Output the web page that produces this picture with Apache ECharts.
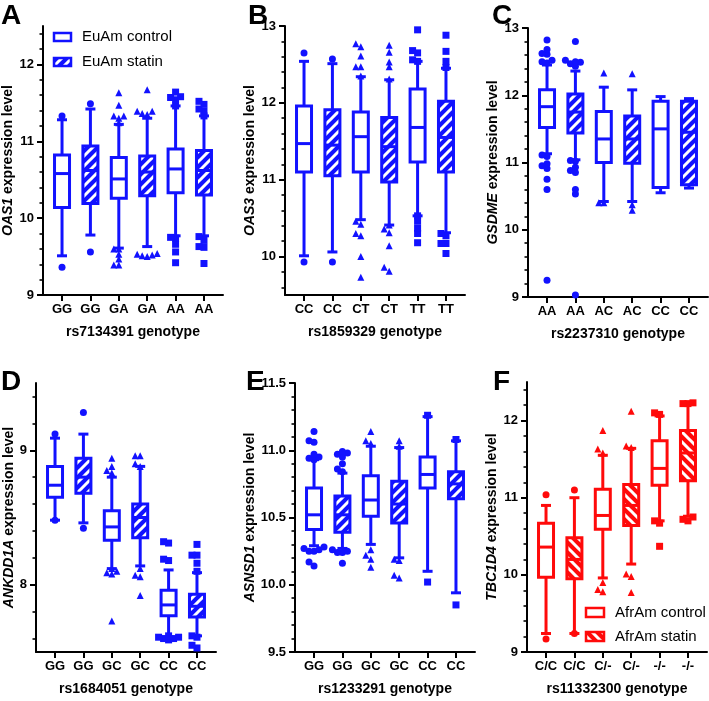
<!DOCTYPE html>
<html><head><meta charset="utf-8">
<script src="https://cdn.jsdelivr.net/npm/echarts@6/dist/echarts.min.js"></script>
<style>html,body{margin:0;padding:0;background:#fff}#c{width:709px;height:701px}</style>
</head><body><div id="c"></div>
<script>
// ---------- DATA ----------
const catsA=['GG','GG','GA','GA','AA','AA'];
const boxA=[[9.51,10.14,10.58,10.82,11.28],[9.78,10.19,10.62,10.94,11.42],[9.61,10.26,10.51,10.79,11.22],[9.63,10.29,10.60,10.81,11.30],[9.77,10.33,10.64,10.90,11.46],[9.77,10.30,10.62,10.88,11.33]];
const outA=[[11.33,9.36],[11.49,9.56],[11.63,11.47,11.33,11.33,11.30,11.24,9.60,9.60,9.53,9.47,9.39,9.39],[11.67,11.39,11.39,11.36,11.35,9.54,9.52,9.51,9.50,9.53],[11.64,11.58,11.54,11.57,11.46,9.75,9.74,9.66,9.56,9.42],[11.52,11.48,11.42,11.39,11.33,9.76,9.71,9.63,9.62,9.41]];

const catsB=['CC','CC','CT','CT','TT','TT'];
const boxB=[[10.01,11.10,11.47,11.96,12.54],[10.06,11.05,11.45,11.91,12.51],[10.48,11.10,11.56,11.88,12.34],[10.41,10.97,11.43,11.81,12.30],[10.53,11.23,11.68,12.18,12.54],[10.31,11.10,11.55,12.02,12.45]];
const outB=[[12.65,9.93],[12.57,9.93],[12.77,12.73,12.61,12.47,12.47,12.35,10.46,10.42,10.30,10.27,10.00,9.73],[12.75,12.66,12.53,12.47,12.31,10.41,10.36,10.31,10.14,9.86,9.81],[12.95,12.68,12.65,12.56,12.54,10.53,10.46,10.37,10.30,10.18],[12.88,12.67,12.54,12.46,10.30,10.27,10.17,10.17,10.04]];

const catsC=['AA','AA','AC','AC','CC','CC'];
const boxC=[[11.13,11.52,11.83,12.08,12.45],[11.04,11.44,11.75,12.02,12.36],[10.42,11.00,11.35,11.76,12.12],[10.42,10.99,11.35,11.69,12.08],[10.55,10.63,11.50,11.91,11.98],[10.62,10.67,11.45,11.91,11.95]];
const outC=[[12.82,12.68,12.62,12.61,12.52,12.50,12.48,11.11,11.09,10.98,10.95,10.91,10.75,10.60,9.25],[12.80,12.52,12.50,12.49,12.47,12.43,11.03,11.02,10.93,10.88,10.85,10.60,10.53,9.03],[12.33,10.40,10.40],[12.32,10.37,10.29],[],[]];

const catsD=['GG','GG','GC','GC','CC','CC'];
const boxD=[[8.48,8.65,8.74,8.88,9.09],[8.46,8.68,8.80,8.94,9.12],[8.12,8.33,8.43,8.55,8.80],[8.14,8.35,8.50,8.60,8.88],[7.61,7.77,7.85,7.96,8.11],[7.62,7.76,7.84,7.93,8.09]];
const outD=[[9.12,8.48],[9.28,8.42],[8.94,8.88,8.85,8.83,8.12,8.09,8.08,8.10,7.73],[8.96,8.96,8.90,8.88,8.12,8.07,8.06,7.92],[8.32,8.31,8.18,8.19,7.61,7.60,7.60,7.62,7.61,7.59],[8.30,8.22,8.22,8.16,8.10,7.62,7.61,7.55,7.53]];

const catsE=['GG','GG','GC','GC','CC','CC'];
const boxE=[[10.29,10.41,10.52,10.72,10.93],[10.27,10.39,10.52,10.66,10.83],[10.30,10.51,10.63,10.81,11.03],[10.20,10.46,10.60,10.77,11.02],[10.10,10.72,10.82,10.95,11.25],[9.94,10.64,10.75,10.84,11.07]];
const outE=[[11.14,11.07,11.06,10.97,10.95,10.94,10.93,10.28,10.27,10.26,10.25,10.25,10.17,10.14],[10.99,10.98,10.97,10.95,10.90,10.86,10.84,10.26,10.25,10.24,10.24,10.16],[11.14,11.07,11.05,10.26,10.22,10.19,10.13],[11.07,11.03,10.19,10.18,10.07,10.05],[11.26,10.02],[11.08,9.85]];

const catsF=['C/C','C/C','C/-','C/-','-/-','-/-'];
const boxF=[[9.24,9.97,10.36,10.67,10.90],[9.24,9.95,10.20,10.48,11.00],[9.96,10.59,10.77,11.11,11.55],[10.14,10.64,10.90,11.17,11.64],[10.70,11.16,11.38,11.74,12.06],[10.76,11.22,11.58,11.87,12.23]];
const outF=[[11.04,9.17],[11.10,9.24],[11.87,11.63,11.58,9.90,9.81,9.78],[12.12,11.67,11.65,10.01,9.98,9.77],[12.10,12.08,10.70,10.67,10.37],[12.23,12.22,12.22,10.75,10.72,10.70]];

const legendEu=['EuAm control','EuAm statin'];
const legendAfr=['AfrAm control','AfrAm statin'];
// ---------- STYLE ----------
const BLUE='#1212ff', RED='#ff0a0a';
const FF="Arial, 'Liberation Sans', sans-serif";
const SYMBOLS=['circle','circle','triangle','triangle','rect','rect'];

function makeHatch(color, dir){
  const s=10; const c=document.createElement('canvas'); c.width=s; c.height=s;
  const g=c.getContext('2d'); g.fillStyle=color; g.fillRect(0,0,s,s);
  g.strokeStyle='#fff'; g.lineWidth=3; g.beginPath();
  if(dir>0){ g.moveTo(-2,2); g.lineTo(2,-2); g.moveTo(0,s); g.lineTo(s,0); g.moveTo(s-2,s+2); g.lineTo(s+2,s-2); }
  else { g.moveTo(-2,s-2); g.lineTo(2,s+2); g.moveTo(0,0); g.lineTo(s,s); g.moveTo(s-2,-2); g.lineTo(s+2,2); }
  g.stroke(); return c;
}
function ticks(min,max,step){const a=[];for(let k=0;;k++){const v=Math.round((min+k*step)*100)/100; if(v>max+1e-9)break; a.push(v);}return a;}
// beeswarm-style spreading of tied outliers (layout only, values unchanged)
function swarm(vals,k,pxPerUnitY,pxPerCat){
  const sorted=vals.slice().sort((a,b)=>a-b), placed=[], res=[];
  const d=5, thr=4.5, order=[0,-1,1,-2,2];
  sorted.forEach(v=>{
    const py=v*pxPerUnitY;
    let best=null,bestC=1e9;
    for(const o of order){
      const px=o*d;
      const c=placed.filter(q=>Math.abs(q[0]-px)<thr&&Math.abs(q[1]-py)<thr).length;
      if(c<bestC){bestC=c;best=px;}
      if(c===0)break;
    }
    placed.push([best,py]);res.push([k+best/pxPerCat,v]);
  });
  return res;
}

const PANELS=[
 {cats:catsA,box:boxA,out:outA,min:9,max:12.5,major:[9,10,11,12],minor:ticks(9.2,12.4,0.2),gene:'OAS1',snp:'rs7134391',color:BLUE,dir:1,dec:0,grid:{left:43,top:26,width:180,height:269},ng:24,letter:'A',lx:10,ly:15},
 {cats:catsB,box:boxB,out:outB,min:9.5,max:13,major:[10,11,12,13],minor:ticks(9.6,12.8,0.2),gene:'OAS3',snp:'rs1859329',color:BLUE,dir:1,dec:0,grid:{left:285,top:26,width:180,height:269},ng:26,letter:'B',lx:257,ly:15},
 {cats:catsC,box:boxC,out:outC,min:9,max:13,major:[9,10,11,12,13],minor:ticks(9.2,12.8,0.2),gene:'GSDME',snp:'rs2237310',color:BLUE,dir:1,dec:0,grid:{left:528,top:28,width:180,height:269},ng:25,letter:'C',lx:501,ly:15},
 {cats:catsD,box:boxD,out:outD,min:7.5,max:9.5,major:[8,9],minor:ticks(7.6,9.4,0.2),gene:'ANKDD1A',snp:'rs1684051',color:BLUE,dir:1,dec:0,grid:{left:36,top:383,width:180,height:269},ng:18,letter:'D',lx:10,ly:381},
 {cats:catsE,box:boxE,out:outE,min:9.5,max:11.5,major:[9.5,10,10.5,11,11.5],minor:ticks(9.6,11.4,0.1),gene:'ASNSD1',snp:'rs1233291',color:BLUE,dir:1,dec:1,grid:{left:295,top:383,width:180,height:269},ng:32,letter:'E',lx:255,ly:381},
 {cats:catsF,box:boxF,out:outF,min:9,max:12.5,major:[9,10,11,12],minor:ticks(9.2,12.4,0.2),gene:'TBC1D4',snp:'rs11332300',color:RED,dir:-1,dec:0,grid:{left:527,top:382,width:180,height:270},ng:14,letter:'F',lx:502,ly:381}
];

const XMIN=-0.67, XMAX=5.67;
const option={animation:false,backgroundColor:'#fff',grid:[],xAxis:[],yAxis:[],series:[],graphic:[]};
const axLine={onZero:false,lineStyle:{color:'#000',width:2}};
PANELS.forEach((p,i)=>{
  const pattern={image:makeHatch(p.color,p.dir),repeat:'repeat'};
  p.pattern=pattern;
  option.grid.push(p.grid);
  option.xAxis.push({type:'value',gridIndex:i,min:XMIN,max:XMAX,splitLine:{show:false},axisLine:axLine,
    axisTick:{customValues:[0,1,2,3,4,5],length:6,lineStyle:{color:'#000',width:2}},
    axisLabel:{customValues:[0,1,2,3,4,5],formatter:v=>p.cats[Math.round(v)],color:'#000',fontWeight:'bold',fontSize:13,margin:8,fontFamily:FF},
    name:p.snp+' genotype',nameLocation:'middle',nameGap:30,nameTextStyle:{color:'#000',fontWeight:'bold',fontSize:14,fontFamily:FF}});
  option.yAxis.push({type:'value',gridIndex:i,position:'left',min:p.min,max:p.max,splitLine:{show:false},axisLine:axLine,
    axisTick:{customValues:p.major,length:6,lineStyle:{color:'#000',width:2}},
    axisLabel:{customValues:p.major,formatter:v=>v.toFixed(p.dec),color:'#000',fontWeight:'bold',fontSize:13,margin:9,fontFamily:FF},
    name:'{i|'+p.gene+'} expression level',nameLocation:'middle',nameRotate:90,nameGap:p.ng,
    nameTextStyle:{color:'#000',fontWeight:'bold',fontSize:14,fontFamily:FF,rich:{i:{fontStyle:'italic',fontWeight:'bold',fontSize:14,fontFamily:FF,color:'#000'}}}});
  option.yAxis.push({type:'value',gridIndex:i,position:'left',min:p.min,max:p.max,splitLine:{show:false},axisLine:{show:false,onZero:false},
    axisTick:{customValues:p.minor,length:3.5,lineStyle:{color:'#000',width:1.6}},axisLabel:{show:false}});
  const data=p.box.map((b,k)=>[k,b[0],b[1],b[2],b[3],b[4],k%2]);
  option.series.push({type:'custom',xAxisIndex:i,yAxisIndex:2*i,data:data,clip:false,z:2,
    renderItem:function(params,api){
      const x=api.value(0);
      const pMn=api.coord([x,api.value(1)]),pQ1=api.coord([x,api.value(2)]),pMd=api.coord([x,api.value(3)]),pQ3=api.coord([x,api.value(4)]),pMx=api.coord([x,api.value(5)]);
      const cx=pMn[0],bw=15,cw=5,ls={stroke:p.color,lineWidth:3};
      return {type:'group',children:[
        {type:'line',shape:{x1:cx,y1:pMn[1],x2:cx,y2:pQ1[1]},style:ls},
        {type:'line',shape:{x1:cx,y1:pQ3[1],x2:cx,y2:pMx[1]},style:ls},
        {type:'line',shape:{x1:cx-cw,y1:pMn[1],x2:cx+cw,y2:pMn[1]},style:ls},
        {type:'line',shape:{x1:cx-cw,y1:pMx[1],x2:cx+cw,y2:pMx[1]},style:ls},
        {type:'rect',shape:{x:cx-bw/2,y:pQ3[1],width:bw,height:pQ1[1]-pQ3[1]},style:{fill:api.value(6)?pattern:'#fff',stroke:p.color,lineWidth:3}},
        {type:'line',shape:{x1:cx-bw/2,y1:pMd[1],x2:cx+bw/2,y2:pMd[1]},style:ls}
      ]};
    }});
  const pxY=p.grid.height/(p.max-p.min), pxC=p.grid.width/(XMAX-XMIN);
  ['circle','triangle','rect'].forEach(sym=>{
    let pts=[];
    p.out.forEach((arr,k)=>{ if(SYMBOLS[k]===sym) pts=pts.concat(swarm(arr,k,pxY,pxC)); });
    if(pts.length) option.series.push({type:'scatter',xAxisIndex:i,yAxisIndex:2*i,data:pts,symbol:sym,symbolSize:7,z:5,itemStyle:{color:p.color,opacity:1},silent:true});
  });
  option.graphic.push({type:'text',left:p.lx-9,top:p.ly-13,style:{text:p.letter,font:'bold 28px '+FF,fill:'#000'}});
});
// legends
function legend(x,y,labels,color,pattern,rw,rh,gap){
  labels.forEach((t,k)=>{
    option.graphic.push({type:'rect',shape:{x:x,y:y+k*gap,width:rw,height:rh},style:{fill:k?pattern:'#fff',stroke:color,lineWidth:2.5}});
    option.graphic.push({type:'text',x:x+rw+11,y:y+k*gap+rh/2,style:{text:t,font:'15px '+FF,fill:'#000',verticalAlign:'middle'}});
  });
}
legend(54,33,legendEu,BLUE,PANELS[0].pattern,17,8,25);
legend(586,608,legendAfr,RED,PANELS[5].pattern,18,9,24);

const chart=echarts.init(document.getElementById('c'),null,{renderer:'canvas'});
chart.setOption(option);
</script></body></html>
